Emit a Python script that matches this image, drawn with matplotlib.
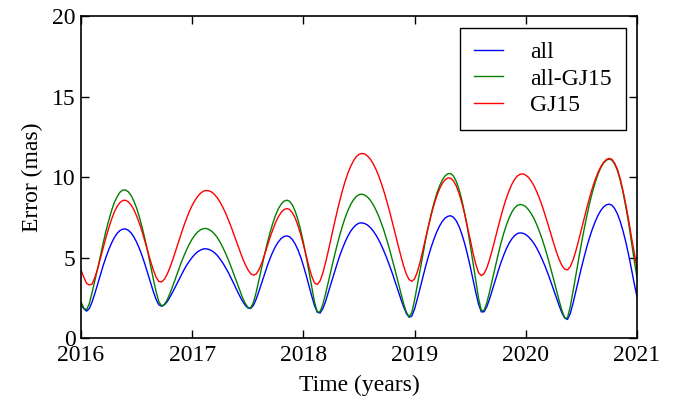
import numpy as np
import matplotlib
matplotlib.use("Agg")
import matplotlib.pyplot as plt

# sampling grid of the curves (years), one value every 0.025 yr
year = np.round(np.arange(2016.0, 2021.0001, 0.025), 3)

err_all = [
    2.10, 1.85, 1.70, 1.86, 2.28, 2.81, 3.39, 3.98, 4.54, 5.06,
    5.53, 5.93, 6.27, 6.53, 6.70, 6.79, 6.80, 6.72, 6.56, 6.31,
    5.98, 5.58, 5.12, 4.60, 4.05, 3.48, 2.92, 2.43, 2.09, 2.00,
    2.09, 2.29, 2.57, 2.89, 3.23, 3.58, 3.92, 4.25, 4.55, 4.81,
    5.04, 5.24, 5.39, 5.49, 5.56, 5.57, 5.53, 5.45, 5.33, 5.16,
    4.94, 4.69, 4.40, 4.09, 3.74, 3.39, 3.02, 2.67, 2.35, 2.08,
    1.90, 1.86, 2.05, 2.44, 2.93, 3.46, 3.99, 4.50, 4.97, 5.38,
    5.73, 6.00, 6.21, 6.33, 6.37, 6.32, 6.15, 5.88, 5.52, 5.06,
    4.52, 3.92, 3.28, 2.63, 2.04, 1.63, 1.58, 1.85, 2.31, 2.87,
    3.45, 4.02, 4.57, 5.10, 5.57, 5.99, 6.36, 6.66, 6.89, 7.06,
    7.16, 7.18, 7.14, 7.05, 6.90, 6.70, 6.45, 6.15, 5.80, 5.41,
    4.98, 4.52, 4.04, 3.52, 3.00, 2.48, 1.99, 1.57, 1.32, 1.39,
    1.84, 2.47, 3.15, 3.84, 4.50, 5.12, 5.69, 6.19, 6.63, 6.99,
    7.28, 7.48, 7.59, 7.62, 7.52, 7.30, 6.95, 6.48, 5.90, 5.23,
    4.48, 3.68, 2.86, 2.13, 1.65, 1.66, 1.98, 2.47, 3.03, 3.60,
    4.15, 4.68, 5.15, 5.57, 5.92, 6.19, 6.39, 6.52, 6.56, 6.53,
    6.45, 6.31, 6.12, 5.88, 5.59, 5.25, 4.87, 4.46, 4.01, 3.53,
    3.03, 2.53, 2.04, 1.59, 1.27, 1.18, 1.55, 2.19, 2.93, 3.66,
    4.39, 5.07, 5.72, 6.30, 6.82, 7.27, 7.65, 7.95, 8.17, 8.30,
    8.34, 8.27, 8.06, 7.72, 7.25, 6.66, 5.97, 5.18, 4.32, 3.41,
    2.60]

err_all_gj15 = [
    2.27, 1.88, 1.79, 2.17, 2.87, 3.60, 4.35, 5.15, 5.95, 6.70,
    7.35, 7.95, 8.45, 8.80, 9.08, 9.21, 9.22, 9.11, 8.88, 8.54,
    8.09, 7.54, 6.89, 6.17, 5.38, 4.54, 3.70, 2.91, 2.28, 2.02,
    2.12, 2.40, 2.80, 3.26, 3.74, 4.22, 4.69, 5.12, 5.52, 5.87,
    6.18, 6.43, 6.62, 6.75, 6.82, 6.83, 6.77, 6.66, 6.49, 6.27,
    5.99, 5.66, 5.29, 4.88, 4.44, 3.97, 3.49, 3.02, 2.58, 2.20,
    1.94, 1.89, 2.22, 2.86, 3.62, 4.41, 5.20, 5.92, 6.58, 7.16,
    7.66, 8.06, 8.34, 8.52, 8.59, 8.52, 8.30, 7.92, 7.39, 6.74,
    5.96, 5.09, 4.15, 3.18, 2.26, 1.64, 1.66, 2.12, 2.79, 3.54,
    4.29, 5.02, 5.72, 6.37, 6.96, 7.49, 7.94, 8.32, 8.61, 8.81,
    8.93, 8.96, 8.91, 8.79, 8.60, 8.34, 8.01, 7.63, 7.18, 6.68,
    6.12, 5.53, 4.89, 4.23, 3.54, 2.86, 2.19, 1.65, 1.35, 1.61,
    2.39, 3.34, 4.30, 5.25, 6.16, 6.99, 7.76, 8.43, 9.01, 9.48,
    9.85, 10.10, 10.23, 10.24, 10.08, 9.75, 9.25, 8.59, 7.79, 6.86,
    5.83, 4.72, 3.58, 2.50, 1.73, 1.74, 2.23, 2.92, 3.68, 4.45,
    5.18, 5.87, 6.49, 7.03, 7.49, 7.85, 8.11, 8.27, 8.32, 8.28,
    8.18, 7.99, 7.74, 7.43, 7.04, 6.60, 6.11, 5.56, 4.97, 4.33,
    3.68, 3.01, 2.35, 1.74, 1.27, 1.28, 1.98, 2.93, 3.93, 4.94,
    5.90, 6.80, 7.65, 8.43, 9.11, 9.71, 10.21, 10.61, 10.90, 11.07,
    11.14, 11.07, 10.82, 10.41, 9.80, 9.05, 8.15, 7.15, 6.00, 4.85,
    3.80]

err_gj15 = [
    4.24, 3.80, 3.42, 3.32, 3.38, 3.80, 4.34, 4.98, 5.64, 6.29,
    6.88, 7.41, 7.86, 8.20, 8.44, 8.57, 8.58, 8.49, 8.29, 8.00,
    7.61, 7.15, 6.62, 6.03, 5.42, 4.81, 4.26, 3.81, 3.54, 3.51,
    3.68, 3.99, 4.41, 4.90, 5.43, 5.97, 6.50, 7.00, 7.47, 7.90,
    8.27, 8.58, 8.83, 9.02, 9.14, 9.19, 9.17, 9.09, 8.94, 8.74,
    8.47, 8.15, 7.79, 7.37, 6.93, 6.46, 5.98, 5.50, 5.03, 4.62,
    4.28, 4.03, 3.93, 4.00, 4.27, 4.68, 5.19, 5.73, 6.27, 6.76,
    7.20, 7.56, 7.83, 8.00, 8.07, 8.01, 7.82, 7.49, 7.03, 6.47,
    5.82, 5.14, 4.45, 3.86, 3.45, 3.35, 3.58, 4.07, 4.73, 5.47,
    6.26, 7.03, 7.79, 8.50, 9.16, 9.75, 10.26, 10.69, 11.03, 11.28,
    11.43, 11.49, 11.46, 11.34, 11.15, 10.88, 10.54, 10.13, 9.65, 9.11,
    8.52, 7.89, 7.22, 6.53, 5.83, 5.16, 4.53, 4.01, 3.66, 3.55,
    3.70, 4.14, 4.77, 5.50, 6.26, 6.99, 7.69, 8.32, 8.86, 9.30,
    9.64, 9.86, 9.97, 9.95, 9.78, 9.47, 9.00, 8.42, 7.73, 6.95,
    6.14, 5.33, 4.61, 4.09, 3.90, 4.03, 4.39, 4.92, 5.54, 6.21,
    6.89, 7.55, 8.16, 8.71, 9.18, 9.58, 9.88, 10.09, 10.20, 10.22,
    10.14, 9.99, 9.76, 9.46, 9.09, 8.66, 8.18, 7.64, 7.08, 6.50,
    5.93, 5.38, 4.91, 4.53, 4.31, 4.26, 4.46, 4.87, 5.43, 6.08,
    6.77, 7.47, 8.14, 8.78, 9.37, 9.88, 10.32, 10.67, 10.94, 11.11,
    11.18, 11.12, 10.87, 10.48, 9.90, 9.15, 8.30, 7.35, 6.30, 5.35,
    4.35]

series_labels = ["all", "all-GJ15", "GJ15"]
series_colors = ["#0000ff", "#008000", "#ff0000"]
x_ticks = [2016, 2017, 2018, 2019, 2020, 2021]
y_ticks = [0, 5, 10, 15, 20]

plt.rcParams['font.family'] = ['Liberation Serif', 'DejaVu Serif']

fig = plt.figure(figsize=(6.82, 3.98), dpi=100)
ax = fig.add_axes([0.1188, 0.1495, 0.8152, 0.8095])

for vals, lab, col in zip([err_all, err_all_gj15, err_gj15], series_labels, series_colors):
    ax.plot(year, vals, color=col, lw=1.0, label=lab)

ax.set_xlim(2016, 2021)
ax.set_ylim(0, 20)
ax.set_xticks(x_ticks)
ax.set_xticklabels([str(v) for v in x_ticks])
ax.set_yticks(y_ticks)
ax.tick_params(axis='both', direction='in', top=True, right=True, length=6,
               width=1, labelsize=17)
ax.tick_params(axis='x', pad=5)
ax.tick_params(axis='y', pad=4)
for s in ax.spines.values():
    s.set_linewidth(1.2)

ax.set_xlabel("Time (years)", fontsize=17, labelpad=6)
ax.set_ylabel("Error (mas)", fontsize=17, labelpad=6)

leg = ax.legend(loc='upper right', fontsize=17, fancybox=False, framealpha=1,
                edgecolor='black', handlelength=1.2, handletextpad=1.15,
                labelspacing=0.2, borderpad=0.6, borderaxespad=0.48)
leg.get_frame().set_linewidth(1.0)

fig.savefig("out.png", dpi=100)
